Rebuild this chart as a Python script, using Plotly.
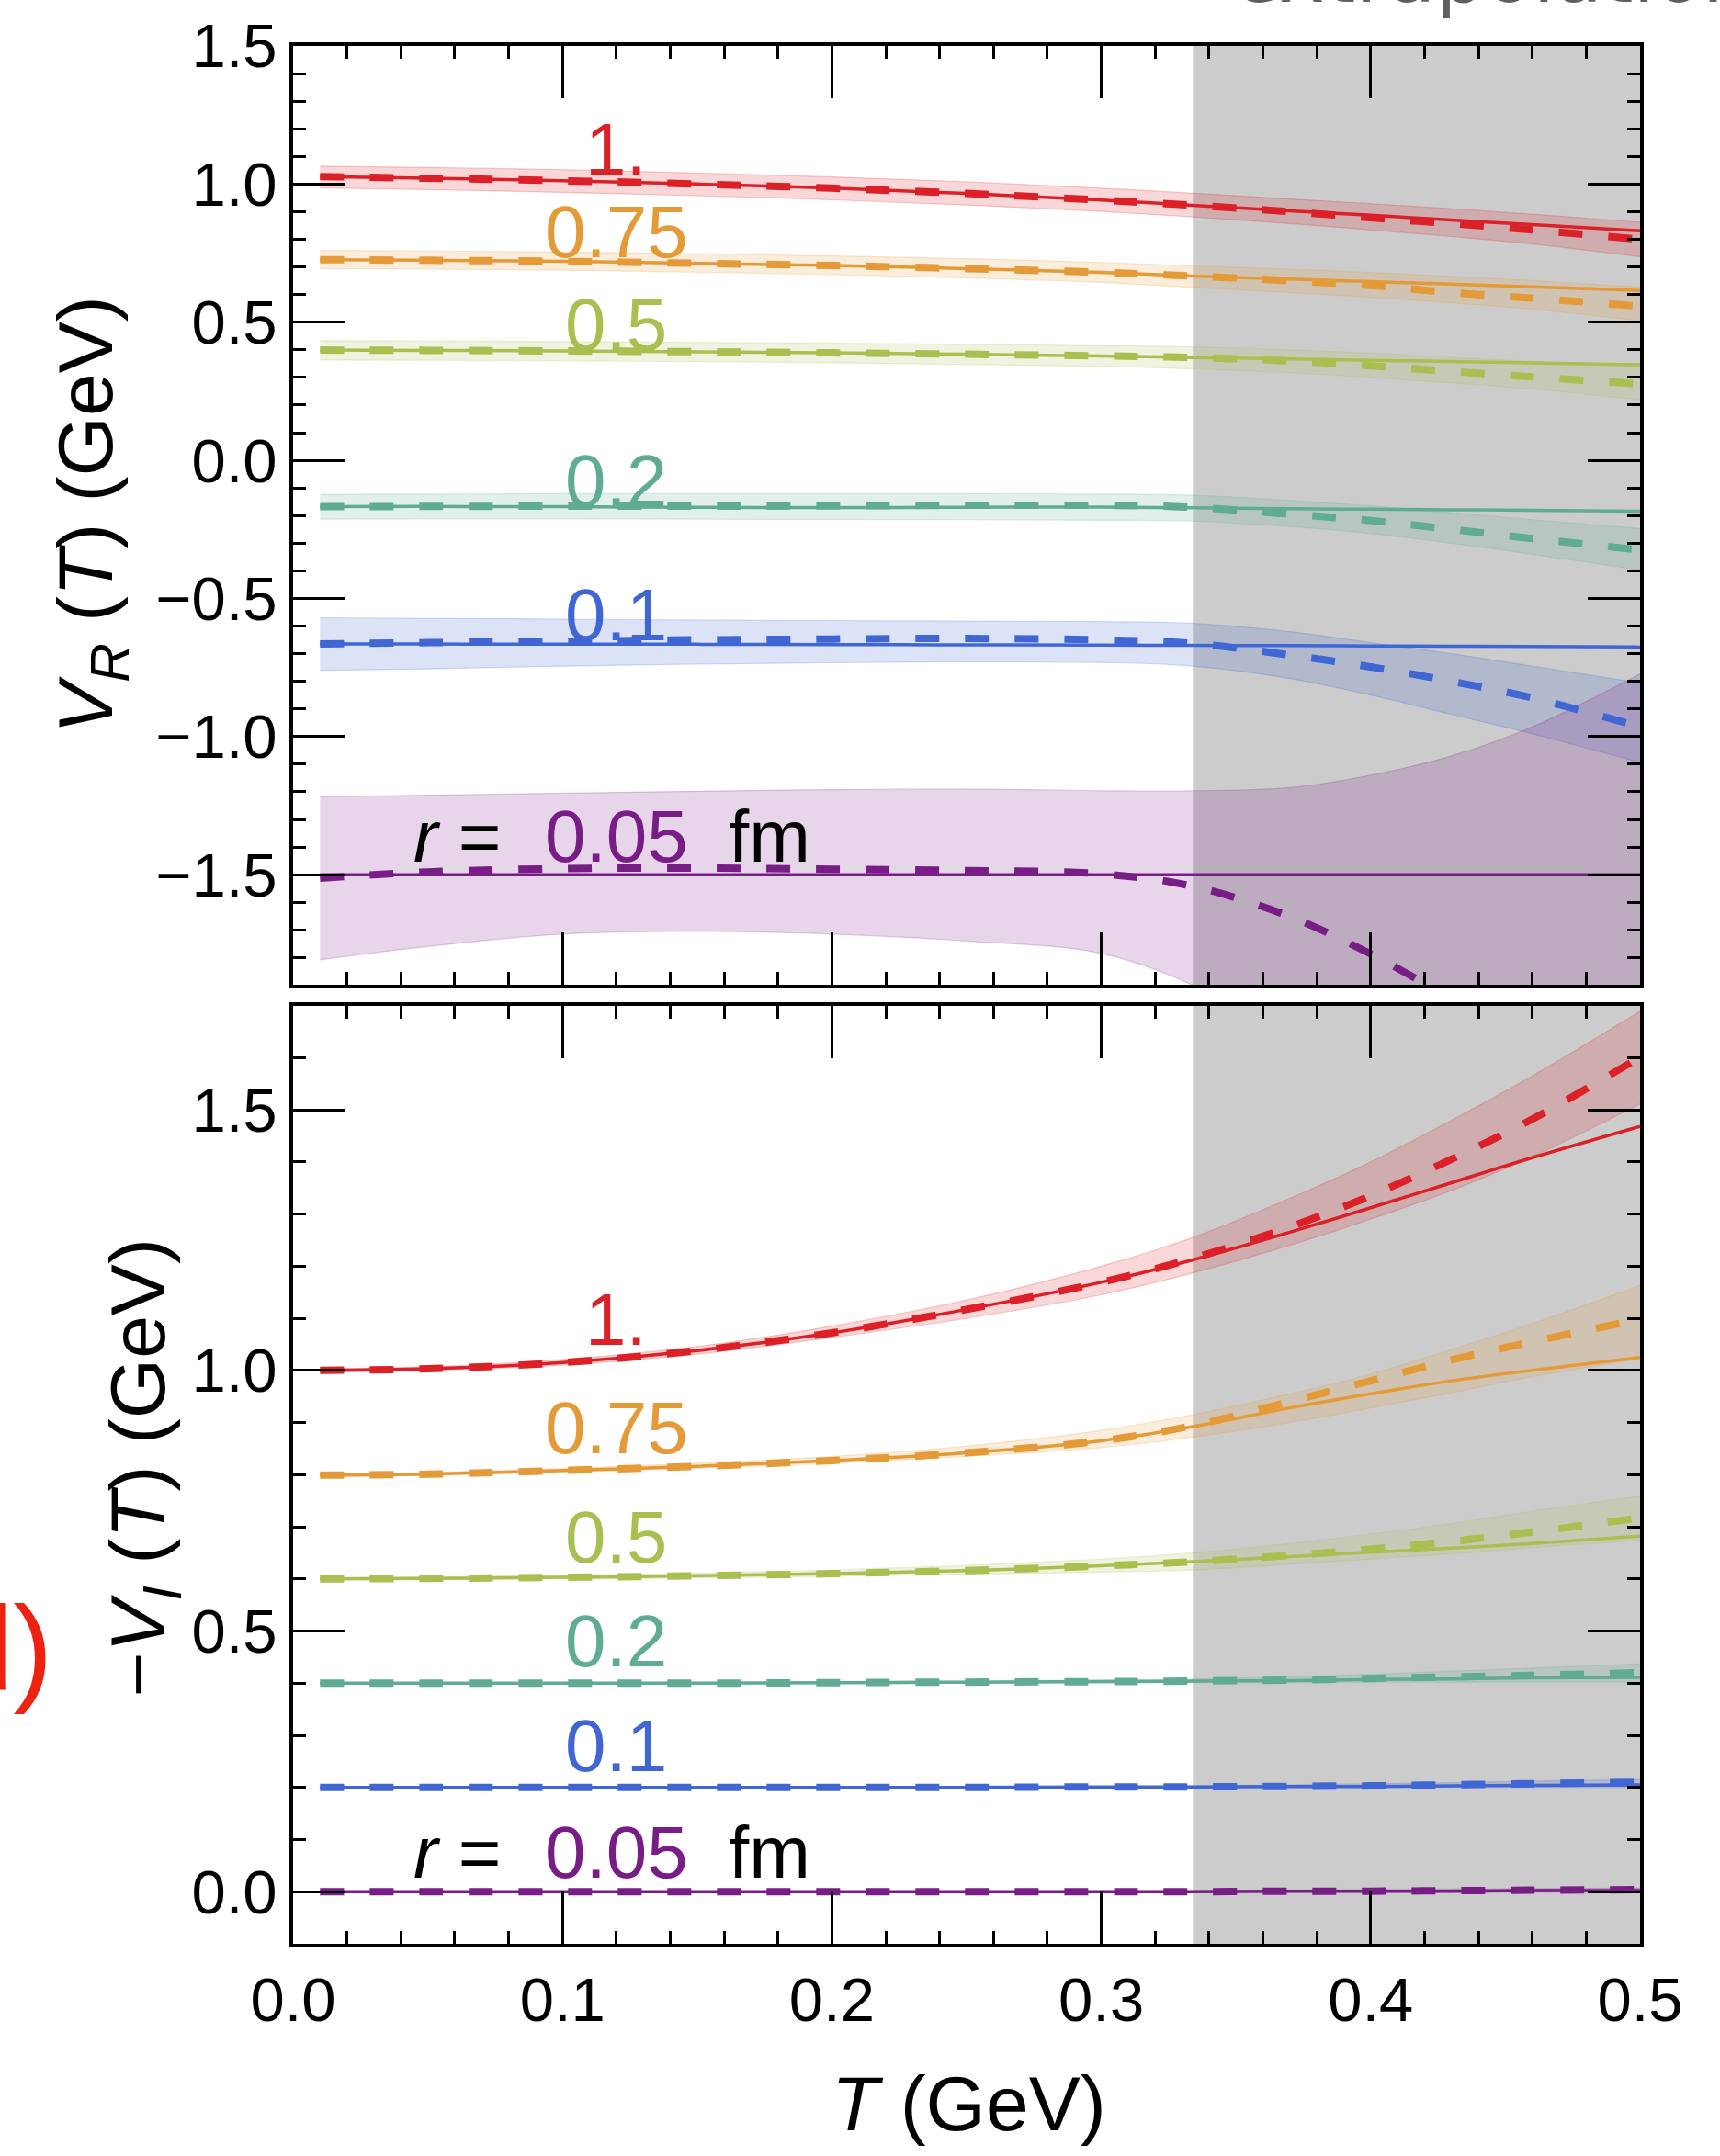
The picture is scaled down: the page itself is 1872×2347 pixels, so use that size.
import plotly.graph_objects as go

# ---------------- data ----------------
T = [0.01, 0.05, 0.1, 0.15, 0.2, 0.25, 0.3, 0.334, 0.37, 0.4, 0.43, 0.46, 0.5]
radius_labels = ["1.", "0.75", "0.5", "0.2", "0.1", "0.05"]
series_colors = ["#dc2027", "#e59a38", "#a9bf50", "#5fab94", "#4066d4", "#781d86"]
series_rgb = [(220, 32, 39), (229, 154, 56), (169, 191, 80), (95, 171, 148), (64, 102, 212), (120, 29, 134)]

# top panel: V_R(T)
vr_solid_100 = [1.027, 1.021, 1.012, 1.000, 0.985, 0.966, 0.942, 0.923, 0.903, 0.887, 0.870, 0.853, 0.831]
vr_dash_100 = [1.027, 1.021, 1.012, 1.000, 0.985, 0.966, 0.942, 0.923, 0.900, 0.878, 0.857, 0.834, 0.800]
vr_lo_100 = [0.986, 0.980, 0.970, 0.958, 0.943, 0.924, 0.901, 0.881, 0.857, 0.834, 0.810, 0.783, 0.737]
vr_hi_100 = [1.065, 1.060, 1.052, 1.040, 1.026, 1.008, 0.985, 0.967, 0.946, 0.929, 0.911, 0.891, 0.862]

vr_solid_075 = [0.726, 0.724, 0.720, 0.713, 0.705, 0.694, 0.680, 0.667, 0.656, 0.647, 0.638, 0.628, 0.615]
vr_dash_075 = [0.726, 0.724, 0.720, 0.713, 0.705, 0.694, 0.680, 0.667, 0.650, 0.633, 0.607, 0.587, 0.558]
vr_lo_075 = [0.694, 0.692, 0.688, 0.681, 0.672, 0.660, 0.644, 0.626, 0.607, 0.590, 0.570, 0.547, 0.505]
vr_hi_075 = [0.760, 0.758, 0.754, 0.748, 0.740, 0.730, 0.716, 0.704, 0.692, 0.680, 0.666, 0.651, 0.627]

vr_solid_050 = [0.399, 0.398, 0.396, 0.393, 0.389, 0.384, 0.378, 0.372, 0.367, 0.362, 0.358, 0.353, 0.346]
vr_dash_050 = [0.399, 0.398, 0.396, 0.393, 0.389, 0.384, 0.378, 0.372, 0.360, 0.342, 0.322, 0.302, 0.276]
vr_lo_050 = [0.363, 0.362, 0.360, 0.357, 0.353, 0.347, 0.340, 0.331, 0.317, 0.300, 0.280, 0.258, 0.219]
vr_hi_050 = [0.433, 0.432, 0.430, 0.427, 0.424, 0.420, 0.415, 0.411, 0.400, 0.388, 0.373, 0.358, 0.339]

vr_solid_020 = [-0.168, -0.167, -0.168, -0.170, -0.171, -0.170, -0.169, -0.172, -0.175, -0.177, -0.179, -0.181, -0.184]
vr_dash_020 = [-0.168, -0.167, -0.166, -0.166, -0.165, -0.163, -0.163, -0.170, -0.195, -0.218, -0.250, -0.283, -0.325]
vr_lo_020 = [-0.213, -0.212, -0.212, -0.213, -0.214, -0.215, -0.217, -0.220, -0.240, -0.265, -0.300, -0.340, -0.397]
vr_hi_020 = [-0.123, -0.122, -0.121, -0.121, -0.121, -0.121, -0.122, -0.126, -0.145, -0.165, -0.190, -0.215, -0.247]

vr_solid_010 = [-0.665, -0.665, -0.666, -0.666, -0.667, -0.668, -0.669, -0.670, -0.671, -0.672, -0.673, -0.674, -0.676]
vr_dash_010 = [-0.665, -0.660, -0.655, -0.650, -0.647, -0.645, -0.650, -0.663, -0.705, -0.748, -0.800, -0.860, -0.965]
vr_lo_010 = [-0.760, -0.755, -0.745, -0.738, -0.733, -0.730, -0.732, -0.745, -0.790, -0.850, -0.920, -0.990, -1.094]
vr_hi_010 = [-0.570, -0.572, -0.575, -0.578, -0.580, -0.582, -0.584, -0.590, -0.620, -0.660, -0.700, -0.745, -0.806]

vr_solid_005 = [-1.500, -1.500, -1.500, -1.500, -1.500, -1.500, -1.500, -1.500, -1.500, -1.500, -1.500, -1.500, -1.500]
vr_dash_005 = [-1.513, -1.490, -1.478, -1.476, -1.480, -1.485, -1.497, -1.542, -1.652, -1.787, -1.950, -2.120, -2.350]
vr_lo_005 = [-1.808, -1.760, -1.715, -1.705, -1.715, -1.740, -1.785, -1.900, -2.100, -2.300, -2.500, -2.700, -3.000]
vr_hi_005 = [-1.217, -1.212, -1.205, -1.198, -1.192, -1.190, -1.196, -1.196, -1.185, -1.140, -1.070, -0.965, -0.773]

# bottom panel: -V_I(T)
vi_solid_100 = [1.000, 1.003, 1.015, 1.038, 1.072, 1.117, 1.169, 1.212, 1.265, 1.312, 1.360, 1.408, 1.468]
vi_dash_100 = [1.000, 1.003, 1.015, 1.038, 1.072, 1.117, 1.169, 1.215, 1.275, 1.335, 1.405, 1.482, 1.601]
vi_lo_100 = [0.997, 1.000, 1.010, 1.031, 1.063, 1.100, 1.145, 1.187, 1.240, 1.290, 1.345, 1.410, 1.511]
vi_hi_100 = [1.003, 1.007, 1.021, 1.046, 1.085, 1.135, 1.200, 1.255, 1.330, 1.400, 1.480, 1.565, 1.689]

vi_solid_075 = [0.799, 0.801, 0.808, 0.816, 0.827, 0.842, 0.865, 0.892, 0.928, 0.955, 0.980, 1.000, 1.025]
vi_dash_075 = [0.799, 0.801, 0.808, 0.816, 0.827, 0.842, 0.865, 0.894, 0.940, 0.980, 1.020, 1.055, 1.098]
vi_lo_075 = [0.797, 0.799, 0.805, 0.812, 0.822, 0.835, 0.852, 0.872, 0.900, 0.928, 0.957, 0.988, 1.022]
vi_hi_075 = [0.801, 0.804, 0.812, 0.822, 0.835, 0.855, 0.885, 0.915, 0.955, 0.993, 1.040, 1.090, 1.163]

vi_solid_050 = [0.600, 0.601, 0.603, 0.606, 0.610, 0.616, 0.625, 0.633, 0.643, 0.651, 0.659, 0.668, 0.682]
vi_dash_050 = [0.600, 0.601, 0.603, 0.606, 0.610, 0.616, 0.625, 0.633, 0.645, 0.657, 0.672, 0.690, 0.717]
vi_lo_050 = [0.598, 0.599, 0.600, 0.602, 0.605, 0.609, 0.613, 0.617, 0.628, 0.638, 0.648, 0.660, 0.674]
vi_hi_050 = [0.602, 0.604, 0.607, 0.611, 0.617, 0.626, 0.638, 0.650, 0.668, 0.686, 0.706, 0.730, 0.759]

vi_solid_020 = [0.400, 0.400, 0.400, 0.400, 0.401, 0.402, 0.403, 0.404, 0.405, 0.407, 0.408, 0.410, 0.411]
vi_dash_020 = [0.400, 0.400, 0.400, 0.400, 0.401, 0.402, 0.403, 0.404, 0.406, 0.409, 0.412, 0.415, 0.420]
vi_lo_020 = [0.399, 0.399, 0.399, 0.399, 0.399, 0.400, 0.400, 0.401, 0.401, 0.402, 0.402, 0.402, 0.402]
vi_hi_020 = [0.401, 0.401, 0.401, 0.402, 0.403, 0.404, 0.406, 0.408, 0.412, 0.417, 0.423, 0.429, 0.437]

vi_solid_010 = [0.200, 0.200, 0.200, 0.200, 0.200, 0.200, 0.201, 0.201, 0.202, 0.202, 0.203, 0.204, 0.205]
vi_dash_010 = [0.200, 0.200, 0.200, 0.200, 0.200, 0.200, 0.201, 0.201, 0.202, 0.203, 0.205, 0.207, 0.210]
vi_lo_010 = [0.199, 0.199, 0.199, 0.199, 0.199, 0.199, 0.200, 0.200, 0.200, 0.200, 0.200, 0.200, 0.200]
vi_hi_010 = [0.201, 0.201, 0.201, 0.201, 0.201, 0.202, 0.202, 0.203, 0.205, 0.207, 0.209, 0.212, 0.215]

vi_solid_005 = [0.000, 0.000, 0.000, 0.000, 0.000, 0.000, 0.000, 0.000, 0.001, 0.001, 0.001, 0.002, 0.002]
vi_dash_005 = [0.000, 0.000, 0.000, 0.000, 0.000, 0.000, 0.000, 0.000, 0.001, 0.001, 0.002, 0.003, 0.004]
vi_lo_005 = [-0.001, -0.001, -0.001, -0.001, -0.001, -0.001, -0.001, -0.001, -0.001, -0.001, -0.001, -0.001, -0.001]
vi_hi_005 = [0.001, 0.001, 0.001, 0.001, 0.001, 0.001, 0.002, 0.002, 0.003, 0.004, 0.005, 0.006, 0.007]

# label positions (T, value)
label_T = 0.12
label_top_vals = [1.127, 0.828, 0.492, -0.073, -0.56, -1.362]
label_bot_vals = [1.097, 0.889, 0.680, 0.481, 0.279, 0.076]
extrap_start_T = 0.334

x_ticks = [0.0, 0.1, 0.2, 0.3, 0.4, 0.5]

top_sets = [
    (vr_solid_100, vr_dash_100, vr_lo_100, vr_hi_100),
    (vr_solid_075, vr_dash_075, vr_lo_075, vr_hi_075),
    (vr_solid_050, vr_dash_050, vr_lo_050, vr_hi_050),
    (vr_solid_020, vr_dash_020, vr_lo_020, vr_hi_020),
    (vr_solid_010, vr_dash_010, vr_lo_010, vr_hi_010),
    (vr_solid_005, vr_dash_005, vr_lo_005, vr_hi_005),
]
bot_sets = [
    (vi_solid_100, vi_dash_100, vi_lo_100, vi_hi_100),
    (vi_solid_075, vi_dash_075, vi_lo_075, vi_hi_075),
    (vi_solid_050, vi_dash_050, vi_lo_050, vi_hi_050),
    (vi_solid_020, vi_dash_020, vi_lo_020, vi_hi_020),
    (vi_solid_010, vi_dash_010, vi_lo_010, vi_hi_010),
    (vi_solid_005, vi_dash_005, vi_lo_005, vi_hi_005),
]

# ---------------- figure ----------------
FONT = "Liberation Sans"
fig = go.Figure()


def add_panel(sets, xa, ya):
    # bands first
    for (solid, dash, lo, hi), rgb in zip(sets, series_rgb):
        r, g, b = rgb
        fig.add_trace(go.Scatter(x=T, y=lo, mode="lines", xaxis=xa, yaxis=ya,
                                 line=dict(width=1.2, color=f"rgba({r},{g},{b},0.22)", shape="spline"),
                                 showlegend=False, hoverinfo="skip"))
        fig.add_trace(go.Scatter(x=T, y=hi, mode="lines", xaxis=xa, yaxis=ya, fill="tonexty",
                                 fillcolor=f"rgba({r},{g},{b},0.18)",
                                 line=dict(width=1.2, color=f"rgba({r},{g},{b},0.22)", shape="spline"),
                                 showlegend=False, hoverinfo="skip"))
    for (solid, dash, lo, hi), col in zip(sets, series_colors):
        fig.add_trace(go.Scatter(x=T, y=solid, mode="lines", xaxis=xa, yaxis=ya,
                                 line=dict(width=3.5, color=col, shape="spline"),
                                 showlegend=False))
        fig.add_trace(go.Scatter(x=T, y=dash, mode="lines", xaxis=xa, yaxis=ya,
                                 line=dict(width=8, color=col, dash="26px,28px", shape="spline"),
                                 showlegend=False))


add_panel(top_sets, "x", "y")
add_panel(bot_sets, "x2", "y2")

# extrapolation region
for xr, yr in [("x", "y domain"), ("x2", "y2 domain")]:
    fig.add_shape(type="rect", xref=xr, yref=yr, x0=extrap_start_T, x1=x_ticks[-1], y0=0, y1=1,
                  fillcolor="#cccccc", line=dict(width=0), layer="below")

axis_common = dict(
    showline=True, linewidth=4, linecolor="black", mirror="allticks",
    ticks="inside", ticklen=57, tickwidth=3, tickcolor="black",
    showgrid=False, zeroline=False,
    tickfont=dict(family=FONT, size=67, color="black"),
)
minor_x = dict(ticks="inside", ticklen=14, tickwidth=3, tickcolor="black", dtick=0.02, tick0=0, showgrid=False)
minor_y = dict(ticks="inside", ticklen=14, tickwidth=3, tickcolor="black", dtick=0.1, tick0=0, showgrid=False)

fig.update_layout(
    width=1872, height=2347,
    margin=dict(l=319, r=87, t=45, b=231),
    plot_bgcolor="white", paper_bgcolor="white",
    showlegend=False,
    font=dict(family=FONT),
    xaxis=dict(domain=[0, 1], range=[0, 0.5], anchor="y", tickvals=x_ticks, showticklabels=False,
               minor=minor_x, **axis_common),
    yaxis=dict(domain=[0.5051, 1], range=[-1.9, 1.5], anchor="x", dtick=0.5, tick0=0, tickformat=".1f",
               minor=minor_y, **axis_common),
    xaxis2=dict(domain=[0, 1], range=[0, 0.5], anchor="y2", tickvals=x_ticks, tickformat=".1f",
                minor=minor_x, **axis_common),
    yaxis2=dict(domain=[0, 0.4944], range=[-0.1, 1.7], anchor="x2", dtick=0.5, tick0=0, tickformat=".1f",
                minor=minor_y, **axis_common),
)

ann = []
# curve labels
for i, (lab, col) in enumerate(zip(radius_labels, series_colors)):
    for xr, yr, vals in [("x", "y", label_top_vals), ("x2", "y2", label_bot_vals)]:
        ann.append(dict(x=label_T, y=vals[i], xref=xr, yref=yr, text=lab, showarrow=False,
                        xanchor="center", yanchor="middle",
                        font=dict(family=FONT, size=80, color=col)))
        if lab == "0.05":
            ann.append(dict(x=0.078, y=vals[i], xref=xr, yref=yr, text="<i>r</i> =", showarrow=False,
                            xanchor="right", yanchor="middle", font=dict(family=FONT, size=80, color="black")))
            ann.append(dict(x=0.161, y=vals[i], xref=xr, yref=yr, text="fm", showarrow=False,
                            xanchor="left", yanchor="middle", font=dict(family=FONT, size=80, color="black")))

# axis titles
ann.append(dict(x=0.502, y=-0.084, xref="paper", yref="paper", text="<i>T</i> (GeV)", showarrow=False,
                xanchor="center", yanchor="middle", font=dict(family=FONT, size=84, color="black")))
ann.append(dict(x=-0.150, y=0.7528, xref="paper", yref="paper",
                text="<i>V</i><sub><i>R</i></sub> (<i>T</i>) (GeV)", textangle=-90, showarrow=False,
                xanchor="center", yanchor="middle", font=dict(family=FONT, size=84, color="black")))
ann.append(dict(x=-0.111, y=0.2506, xref="paper", yref="paper",
                text="\u2212<i>V</i><sub><i>I</i></sub> (<i>T</i>) (GeV)", textangle=-90, showarrow=False,
                xanchor="center", yanchor="middle", font=dict(family=FONT, size=84, color="black")))
# panel letter (partially cut off at the page edge)
ann.append(dict(x=-0.1767, y=0.156, xref="paper", yref="paper", text="d)", showarrow=False,
                xanchor="right", yanchor="middle", font=dict(family=FONT, size=130, color="#ee2211")))
# cut-off header text
ann.append(dict(x=0.6958, y=1.0125, xref="paper", yref="paper", text="extrapolation", showarrow=False,
                xanchor="left", yanchor="bottom", font=dict(family="DejaVu Sans", size=85, color="#5f5f5f")))

fig.update_layout(annotations=ann)

fig.write_html("out.html", config={"displayModeBar": False},
               post_script="document.body.style.margin='0px';")
